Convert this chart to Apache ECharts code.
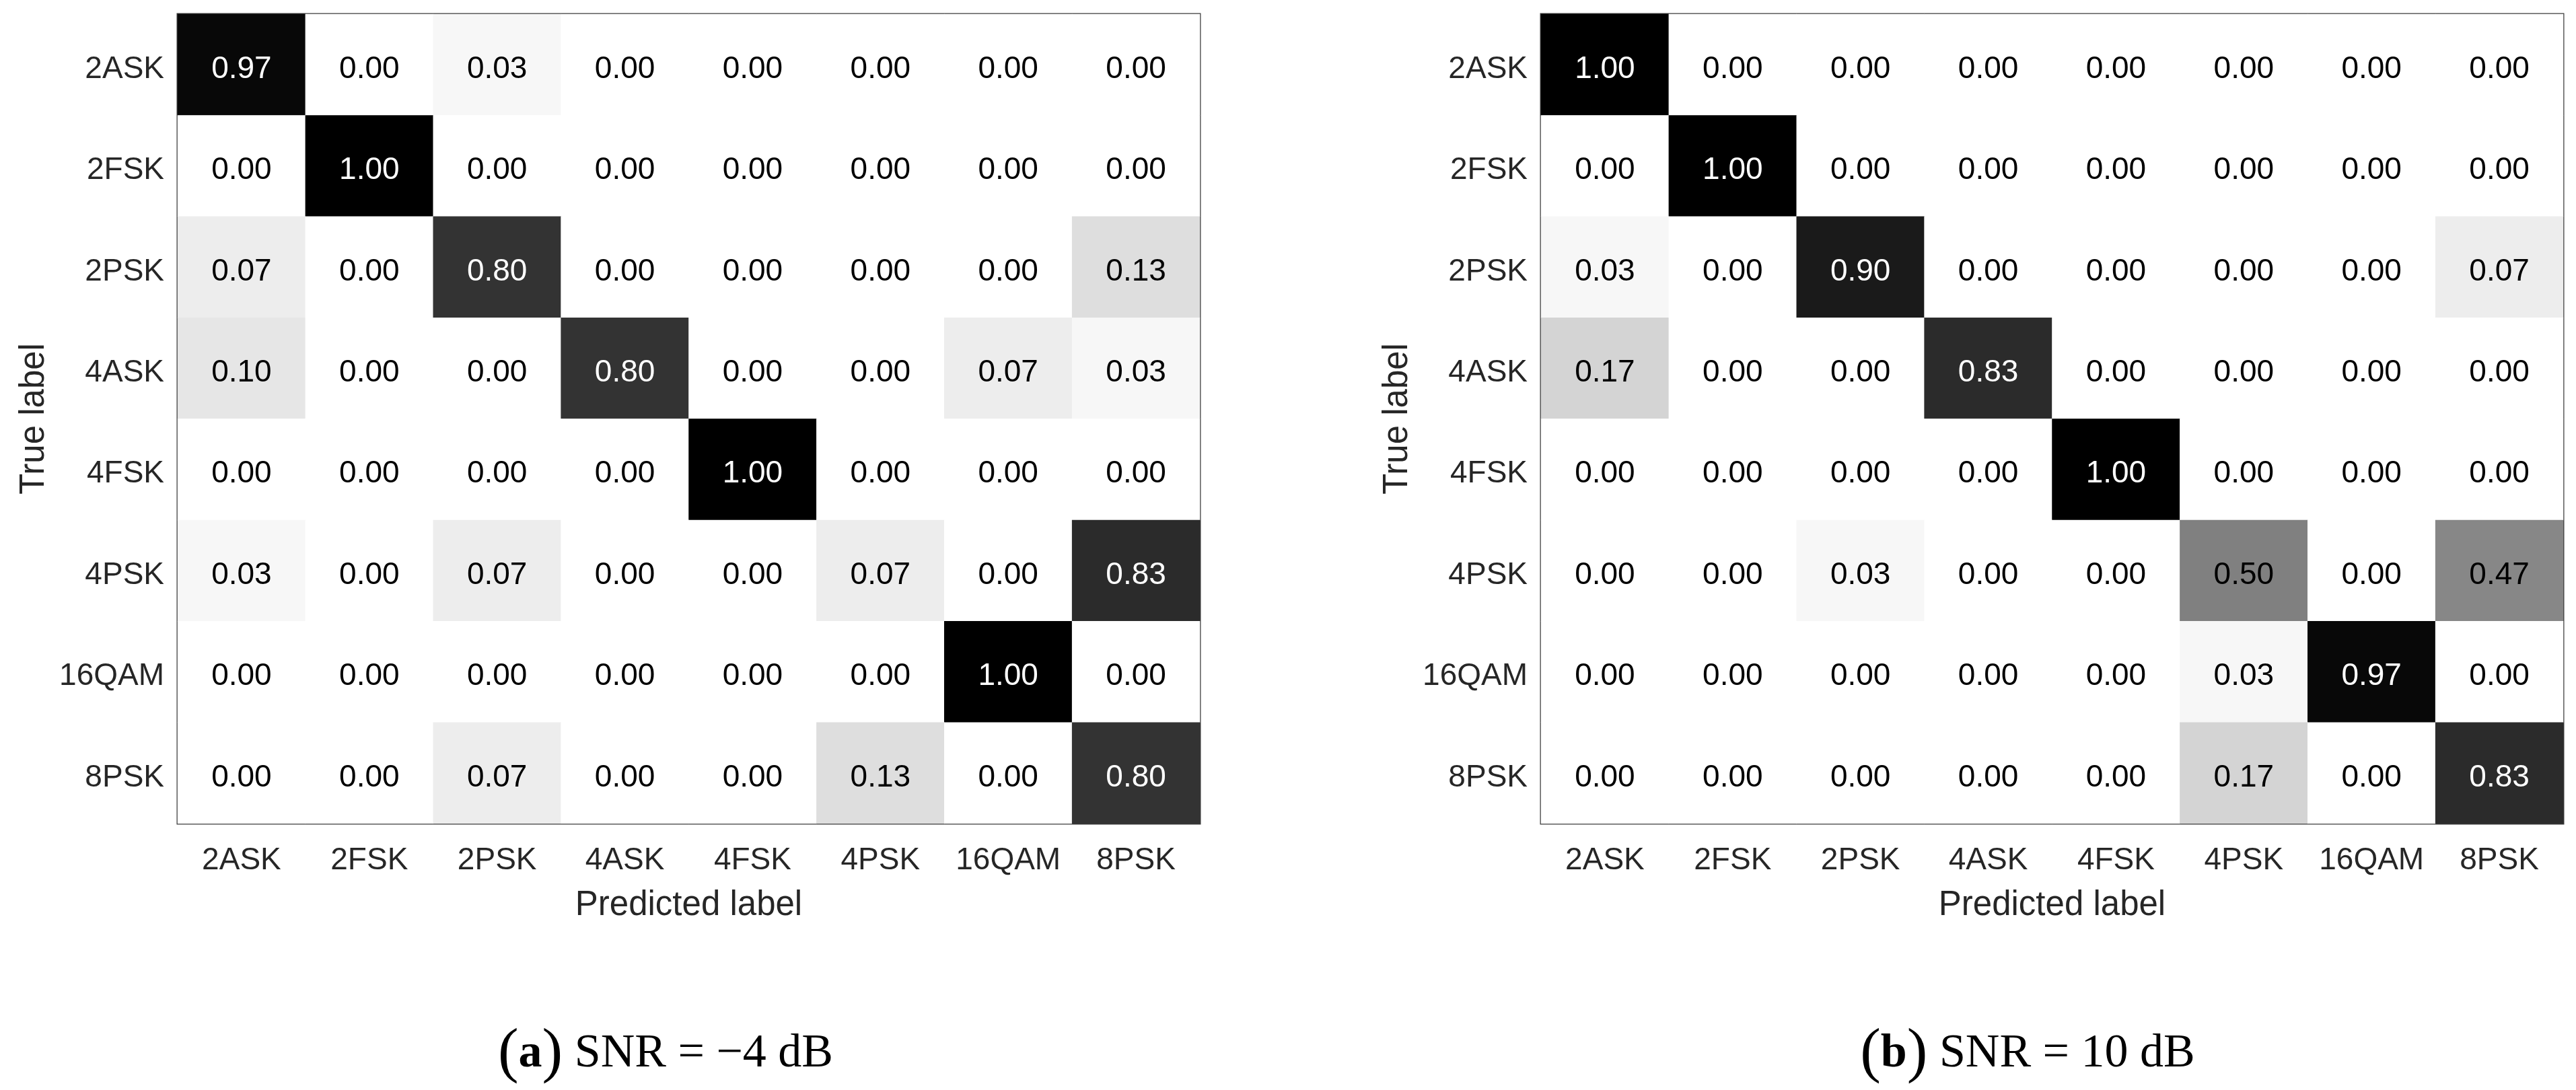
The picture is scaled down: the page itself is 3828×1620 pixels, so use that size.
<!DOCTYPE html>
<html>
<head>
<meta charset="utf-8">
<script src="https://cdn.jsdelivr.net/npm/echarts@6/dist/echarts.min.js"></script>
<style>
html,body{margin:0;padding:0;background:#fff;}
#c{width:3828px;height:1620px;}
</style>
</head>
<body>
<div id="c"></div>
<script>
// Categories (true label rows top->bottom, predicted label columns left->right)
const classes = ['2ASK', '2FSK', '2PSK', '4ASK', '4FSK', '4PSK', '16QAM', '8PSK'];

// (a) SNR = -4 dB, rows = true label, cols = predicted label
const matrixA = [
  [0.97, 0.00, 0.03, 0.00, 0.00, 0.00, 0.00, 0.00],
  [0.00, 1.00, 0.00, 0.00, 0.00, 0.00, 0.00, 0.00],
  [0.07, 0.00, 0.80, 0.00, 0.00, 0.00, 0.00, 0.13],
  [0.10, 0.00, 0.00, 0.80, 0.00, 0.00, 0.07, 0.03],
  [0.00, 0.00, 0.00, 0.00, 1.00, 0.00, 0.00, 0.00],
  [0.03, 0.00, 0.07, 0.00, 0.00, 0.07, 0.00, 0.83],
  [0.00, 0.00, 0.00, 0.00, 0.00, 0.00, 1.00, 0.00],
  [0.00, 0.00, 0.07, 0.00, 0.00, 0.13, 0.00, 0.80]
];

// (b) SNR = 10 dB
const matrixB = [
  [1.00, 0.00, 0.00, 0.00, 0.00, 0.00, 0.00, 0.00],
  [0.00, 1.00, 0.00, 0.00, 0.00, 0.00, 0.00, 0.00],
  [0.03, 0.00, 0.90, 0.00, 0.00, 0.00, 0.00, 0.07],
  [0.17, 0.00, 0.00, 0.83, 0.00, 0.00, 0.00, 0.00],
  [0.00, 0.00, 0.00, 0.00, 1.00, 0.00, 0.00, 0.00],
  [0.00, 0.00, 0.03, 0.00, 0.00, 0.50, 0.00, 0.47],
  [0.00, 0.00, 0.00, 0.00, 0.00, 0.03, 0.97, 0.00],
  [0.00, 0.00, 0.00, 0.00, 0.00, 0.17, 0.00, 0.83]
];

const xName = 'Predicted label';
const yName = 'True label';
const captionA = ['a', 'SNR = \u22124 dB'];
const captionB = ['b', 'SNR = 10 dB'];

function toData(m) {
  const out = [];
  m.forEach((row, r) => row.forEach((v, c) => {
    out.push({ value: [c, r, v], label: { color: v > 0.5 ? '#ffffff' : '#000000' } });
  }));
  return out;
}

const SANS = '"Liberation Sans", Arial, sans-serif';
const SERIF = '"Liberation Serif", "Times New Roman", serif';
const FS = 46;
const NFS = 51;
const grids = [
  { left: 264, top: 21, width: 1519, height: 1203 },
  { left: 2290, top: 21, width: 1519, height: 1203 }
];

const chart = echarts.init(document.getElementById('c'), null, { renderer: 'canvas' });

function xAxis(i) {
  return {
    type: 'category', gridIndex: i, data: classes, position: 'bottom',
    axisLine: { show: false }, axisTick: { show: false }, splitLine: { show: false },
    axisLabel: { color: '#262626', fontSize: FS, fontFamily: SANS, margin: 32, interval: 0 },
    name: xName, nameLocation: 'middle', nameGap: 96,
    nameTextStyle: { color: '#262626', fontSize: NFS, fontFamily: SANS }
  };
}
function yAxis(i) {
  return {
    type: 'category', gridIndex: i, data: classes, inverse: true,
    axisLine: { show: false }, axisTick: { show: false }, splitLine: { show: false },
    axisLabel: { color: '#262626', fontSize: FS, fontFamily: SANS, margin: 20, interval: 0,
                 verticalAlign: 'top', lineHeight: 14 },
    name: yName, nameLocation: 'middle', nameGap: 188,
    nameTextStyle: { color: '#262626', fontSize: NFS, fontFamily: SANS }
  };
}
function series(i, m) {
  return {
    type: 'heatmap', xAxisIndex: i, yAxisIndex: i, data: toData(m),
    label: {
      show: true, fontSize: FS, fontFamily: SANS, offset: [0, 7],
      formatter: p => p.value[2].toFixed(2)
    },
    itemStyle: { borderWidth: 0 },
    emphasis: { disabled: true }
  };
}

function caption(x, cap) {
  return {
    type: 'text', x: x, y: 1613,
    style: {
      text: '{p|(}{b|' + cap[0] + '}{p|)}{t| ' + cap[1] + '}',
      align: 'center', verticalAlign: 'bottom',
      rich: {
        p: { fontSize: 92, fontFamily: SERIF, fill: '#000', verticalAlign: 'bottom' },
        b: { fontSize: 70, fontFamily: SERIF, fontWeight: 'bold', fill: '#000' },
        t: { fontSize: 70, fontFamily: SERIF, fill: '#000' }
      }
    }
  };
}

chart.setOption({
  backgroundColor: '#ffffff',
  animation: false,
  grid: grids.map(g => Object.assign({ show: true, borderColor: '#3a3a3a', borderWidth: 3, backgroundColor: '#fff' }, g)),
  xAxis: [xAxis(0), xAxis(1)],
  yAxis: [yAxis(0), yAxis(1)],
  visualMap: [
    { show: false, seriesIndex: 0, min: 0, max: 1, dimension: 2, inRange: { color: ['#ffffff', '#000000'] } },
    { show: false, seriesIndex: 1, min: 0, max: 1, dimension: 2, inRange: { color: ['#ffffff', '#000000'] } }
  ],
  series: [series(0, matrixA), series(1, matrixB)],
  graphic: [
    caption(989, captionA),
    caption(3013, captionB)
  ]
});
</script>
</body>
</html>
